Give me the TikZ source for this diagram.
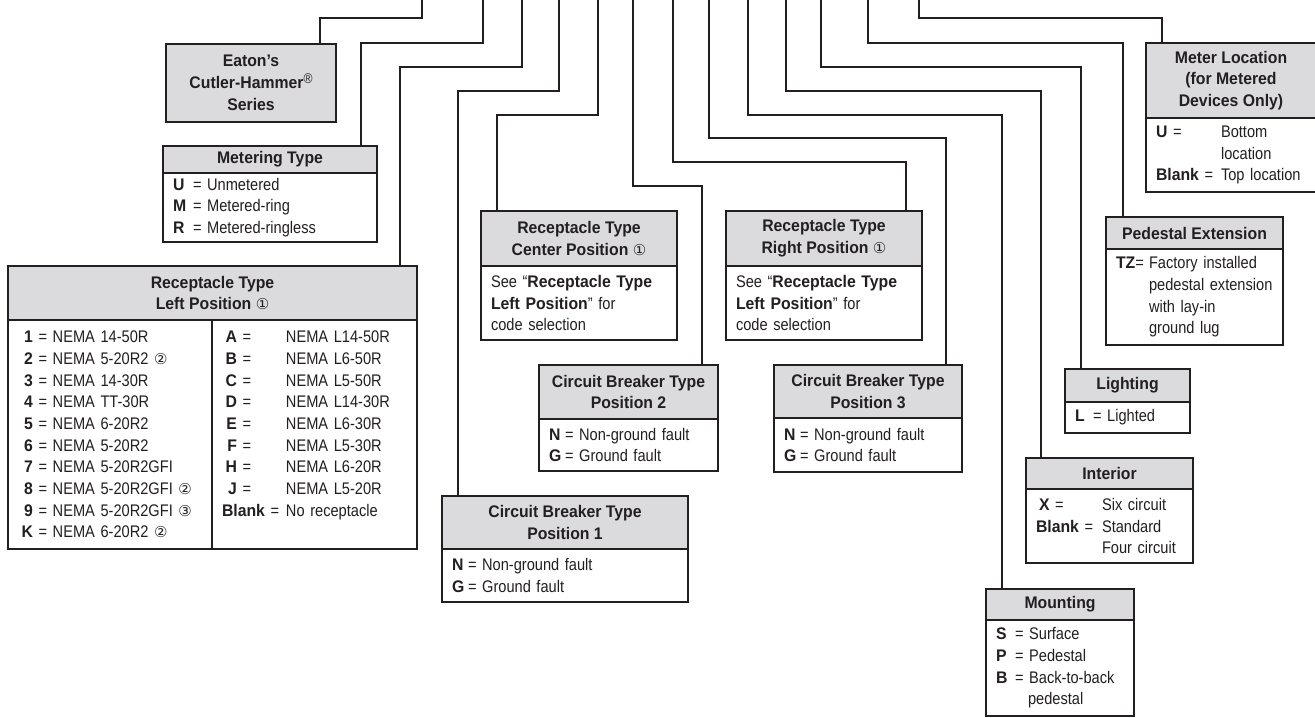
\documentclass[tikz,border=0pt]{standalone}
\usepackage{fontspec}
\setmainfont{Liberation Sans}[FakeStretch=0.87,BoldFeatures={FakeStretch=0.94}]
\newfontfamily\circfont{DejaVu Sans}
\usetikzlibrary{positioning,calc}
\definecolor{HeadGray}{RGB}{219,219,221}
\definecolor{InkBlack}{RGB}{35,31,32}
\newcommand{\basefont}{\fontsize{8.4}{10.85}\selectfont}
\newcommand{\cn}[1]{{\mdseries\circfont\fontsize{7.5}{8}\selectfont#1}}
\newcommand{\kw}[2]{\makebox[#1][l]{\textbf{#2}}}
\newcommand{\lc}[2]{\makebox[102pt][l]{\makebox[7.5pt][r]{\textbf{#1}} = #2}}
\newcommand{\rc}[2]{\makebox[32pt][l]{\makebox[7.5pt][r]{\textbf{#1}} =}#2}
\tikzset{
  head/.style 2 args={draw=InkBlack,line width=0.7pt,fill=HeadGray,text=InkBlack,
    anchor=north west,minimum width=#1,minimum height=#2,inner sep=0pt,outer sep=0pt,
    align=center,font=\basefont\bfseries},
  body/.style 2 args={draw=InkBlack,line width=0.7pt,fill=white,text=InkBlack,
    text width=#1,minimum height=#2,inner xsep=5pt,inner ysep=0pt,outer sep=0pt,
    align=left,font=\basefont},
  wire/.style={line width=1pt,InkBlack},
  divider/.style={line width=0.7pt,InkBlack}
}
\begin{document}
\begin{tikzpicture}[x=0.5pt,y=-0.5pt,node distance=0pt]
  \useasboundingbox (0,0) rectangle (1315,717);

  \node[head={85pt}{39pt}] (eatonH) at (166,44)
    {Eaton’s\\Cutler-Hammer\raisebox{2.6pt}{\mdseries\fontsize{7}{7}\selectfont ®}\\Series};

  \node[head={107pt}{13.5pt}] (meteringH) at (163,146) {Metering Type};
  \node[body={97pt}{34.5pt},below=of meteringH] (meteringB)
    {\kw{10pt}{U}= Unmetered\\\kw{10pt}{M}= Metered-ring\\\kw{10pt}{R}= Metered-ringless};

  \node[head={204.5pt}{27pt}] (recLeftH) at (8,266) {Receptacle Type\\Left Position \cn{①}};
  \node[body={194.5pt}{114.5pt},below=of recLeftH] (recLeftB)
    {\lc{1}{NEMA 14-50R}\rc{A}{NEMA L14-50R}\\
     \lc{2}{NEMA 5-20R2 \cn{②}}\rc{B}{NEMA L6-50R}\\
     \lc{3}{NEMA 14-30R}\rc{C}{NEMA L5-50R}\\
     \lc{4}{NEMA TT-30R}\rc{D}{NEMA L14-30R}\\
     \lc{5}{NEMA 6-20R2}\rc{E}{NEMA L6-30R}\\
     \lc{6}{NEMA 5-20R2}\rc{F}{NEMA L5-30R}\\
     \lc{7}{NEMA 5-20R2GFI}\rc{H}{NEMA L6-20R}\\
     \lc{8}{NEMA 5-20R2GFI \cn{②}}\rc{J}{NEMA L5-20R}\\
     \lc{9}{NEMA 5-20R2GFI \cn{③}}\makebox[32pt][l]{\textbf{Blank} =}No receptacle\\
     \lc{K}{NEMA 6-20R2 \cn{②}}};
  \draw[divider] ($(recLeftB.north west)+(204,0)$) -- ($(recLeftB.south west)+(204,0)$);

  \node[head={123pt}{26.5pt}] (cb1H) at (442,496) {Circuit Breaker Type\\Position 1};
  \node[body={113pt}{26.5pt},below=of cb1H] (cb1B)
    {\kw{8pt}{N}= Non-ground fault\\\kw{8pt}{G}= Ground fault};

  \node[head={98pt}{27.5pt}] (recCenterH) at (481,211) {Receptacle Type\\Center Position \cn{①}};
  \node[body={88pt}{37pt},below=of recCenterH] (recCenterB)
    {See “\textbf{Receptacle Type}\\\textbf{Left Position}” for\\code selection};

  \node[head={89.5pt}{27pt}] (cb2H) at (539,365) {Circuit Breaker Type\\Position 2};
  \node[body={79.5pt}{26pt},below=of cb2H] (cb2B)
    {\kw{8pt}{N}= Non-ground fault\\\kw{8pt}{G}= Ground fault};

  \node[head={98pt}{27.5pt}] (recRightH) at (726,211) {Receptacle Type\\Right Position \cn{①}};
  \node[body={88pt}{37pt},below=of recRightH] (recRightB)
    {See “\textbf{Receptacle Type}\\\textbf{Left Position}” for\\code selection};

  \node[head={94pt}{26.5pt}] (cb3H) at (774,365) {Circuit Breaker Type\\Position 3};
  \node[body={84pt}{27pt},below=of cb3H] (cb3B)
    {\kw{8pt}{N}= Non-ground fault\\\kw{8pt}{G}= Ground fault};

  \node[head={74pt}{15.5pt}] (mountH) at (986,589) {Mounting};
  \node[body={64pt}{48pt},below=of mountH] (mountB)
    {\kw{9.5pt}{S}= Surface\\\kw{9.5pt}{P}= Pedestal\\\kw{9.5pt}{B}= Back-to-back\\\hspace*{16pt}pedestal};

  \node[head={83.5pt}{15.5pt}] (interiorH) at (1026,458) {Interior};
  \node[body={73.5pt}{37pt},below=of interiorH] (interiorB)
    {\makebox[33pt][l]{\hspace{1.5pt}\textbf{X} =}Six circuit\\
     \makebox[33pt][l]{\textbf{Blank} =}Standard\\\hspace*{33pt}Four circuit};

  \node[head={62.5pt}{16.5pt}] (lightH) at (1065,369) {Lighting};
  \node[body={52.5pt}{15.5pt},below=of lightH] (lightB) {\kw{9pt}{L}= Lighted};

  \node[head={88.5pt}{16pt}] (pedExtH) at (1106,217) {Pedestal Extension};
  \node[body={78.5pt}{48pt},below=of pedExtH] (pedExtB)
    {\makebox[16.5pt][l]{\textbf{TZ}=}Factory installed\\
     \hspace*{16.5pt}\mbox{pedestal extension}\\\hspace*{16.5pt}with lay-in\\\hspace*{16.5pt}ground lug};

  \node[head={85pt}{37.5pt}] (meterLocH) at (1146,43) {Meter Location\\(for Metered\\Devices Only)};
  \node[body={75pt}{37pt},below=of meterLocH] (meterLocB)
    {\makebox[32.5pt][l]{\textbf{U} =}Bottom\\\hspace*{32.5pt}location\\
     \makebox[32.5pt][l]{\textbf{Blank} =}Top location};

  \foreach \i/\tx/\by/\tgt/\anc/\dx in {
    1/422/18/eatonH/north east/-16, 2/483/43/meteringH/north east/-16,
    3/522/67/recLeftH/north east/-17, 4/559/91/cb1H/north west/16,
    5/598/115/recCenterH/north west/16, 6/633/186/cb2H/north east/-16,
    7/673/162/recRightH/north east/-16, 8/709/138/cb3H/north east/-16,
    9/748/115/mountH/north west/16, 10/786/91/interiorH/north west/15,
    11/821/67/lightH/north west/16, 12/868/43/pedExtH/north west/17,
    13/919/18/meterLocH/north west/16}{
    \coordinate (top\i) at (\tx,-2);
    \draw[wire] (top\i) -- ++(0,\by+2) -| ($(\tgt.\anc)+(\dx,0)$);
  }
\end{tikzpicture}
\end{document}
